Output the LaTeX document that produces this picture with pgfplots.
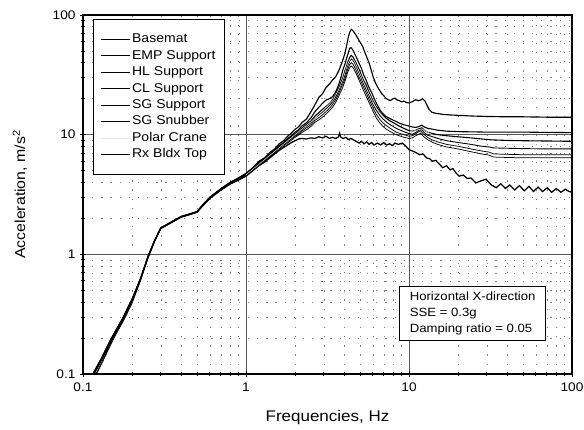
\documentclass[border=0pt]{standalone}
\usepackage{fontspec}
\setmainfont{Liberation Sans}[FakeStretch=1.1]
\usepackage{pgfplots}
\pgfplotsset{compat=1.18}
\begin{document}
\begin{tikzpicture}
\begin{axis}[
  at={(0,0)}, anchor=south west,
  width=489bp, height=359bp, scale only axis,
  xmode=log, ymode=log,
  xmin=0.1, xmax=100, ymin=0.1, ymax=100,
  xtick={0.1,1,10,100}, xticklabels={0.1,1,10,100},
  ytick={0.1,1,10,100}, yticklabels={0.1,1,10,100},
  /pgf/number format/assume math mode=true,
  tick label style={font=\fontsize{12.5}{14}\selectfont},
  xticklabel style={yshift=-2bp},
  yticklabel style={xshift=-1bp},
  tick pos=left, tick align=center,
  major tick length=6bp, minor tick length=4bp,
  tick style={black, line width=0.8pt},
  axis line style={line width=1.3pt},
  grid=both,
  major grid style={black!65, line width=0.6pt},
  minor grid style={black!50, line width=0.4pt, dash pattern=on 1.2pt off 8pt},
  xlabel={Frequencies, Hz},
  ylabel={Acceleration, m/s\textsuperscript{2}},
  xlabel style={at={(axis description cs:0.5,-0.1198)}, anchor=center, font=\fontsize{15.5}{18}\selectfont},
  ylabel style={at={(axis description cs:-0.129,0.5)}, anchor=center, font=\fontsize{14.5}{17}\selectfont},
  legend cell align=left,
  legend style={at={(axis description cs:0.0204,0.9889)}, anchor=north west,
    draw=black, line width=0.8pt, fill=white,
    font=\fontsize{12.8}{14}\selectfont,
    inner xsep=7bp, inner ysep=12.5bp, row sep=1.3bp,
    nodes={inner sep=1.5bp, text height=9.5bp, text depth=2.6bp}},
  legend image code/.code={\draw[#1] (0bp,0bp) -- (29bp,0bp);},
]
% Basemat
\addplot[black, line width=1.25pt] coordinates {
(0.112,0.093) (0.13,0.135) (0.15,0.2) (0.175,0.29) (0.2,0.42) (0.225,0.62) (0.25,0.95) (0.275,1.3) (0.3,1.65) (0.35,1.85) (0.4,2.05) (0.45,2.15) (0.5,2.25) (0.55,2.6) (0.6,2.95) (0.7,3.45) (0.8,3.9) (0.9,4.2)
(1.0,4.5) (1.1,5.0) (1.2,5.5) (1.3,5.9) (1.4,6.4) (1.5,6.9) (1.6,7.4) (1.7,7.8) (1.8,8.2) (1.9,8.6) (2.0,8.9) (2.1,9.2) (2.2,9.3) (2.35,9.2) (2.5,9.4) (2.65,9.3) (2.8,9.6) (2.95,9.4) (3.1,9.7) (3.25,9.3) (3.4,9.5) (3.55,9.3) (3.7,9.6) (3.75,10.3) (3.82,9.5) (3.95,9.3) (4.1,9.5) (4.25,9.1) (4.4,9.3) (4.6,9.0) (4.8,8.7) (4.95,8.5) (5.1,8.8) (5.3,8.4) (5.5,8.7) (5.7,8.3) (5.9,8.6) (6.1,8.2) (6.4,8.5) (6.7,8.2) (7.0,8.6) (7.3,8.2) (7.6,8.4) (7.9,8.1) (8.2,8.5) (8.6,8.3) (9.1,8.5) (9.5,8.1) (10,7.5) (10.5,7.3) (11,7.1) (11.6,6.8) (12.2,6.9) (12.8,6.4) (13.4,6.3) (13.9,6.0) (14.6,6.1) (15.3,5.7) (16.1,5.3) (17,5.5) (17.8,5.1) (18.6,5.2) (19.4,4.8) (20.3,4.5) (21.5,4.6) (22.8,4.3) (24,4.35) (25.7,3.95) (27.5,4.1) (29.7,4.25) (32,3.8) (34.3,3.6) (36.5,3.9) (39,3.55) (41.5,3.8) (44.5,3.45) (47.5,3.75) (51,3.4) (54.5,3.7) (58,3.35) (62,3.65) (66,3.35) (70.5,3.6) (75,3.3) (80,3.55) (85.5,3.3) (91,3.5) (96,3.35) (100,3.3)
};
\addlegendentry{Basemat}
% EMP Support
\addplot[black, line width=0.9pt] coordinates {
(0.114,0.093) (0.13,0.13) (0.15,0.19) (0.175,0.28) (0.2,0.41) (0.225,0.61) (0.25,0.94) (0.275,1.3) (0.3,1.65) (0.35,1.86) (0.4,2.06) (0.45,2.16) (0.5,2.26) (0.55,2.62) (0.6,2.97) (0.7,3.5) (0.8,3.95) (0.9,4.25)
(1.0,4.6) (1.1,5.15) (1.2,5.75) (1.3,6.2) (1.4,6.7) (1.5,7.2) (1.6,7.8) (1.7,8.3) (1.8,8.9) (1.9,9.4) (2.0,9.9) (2.1,10.4) (2.2,11.0) (2.35,11.8) (2.5,12.6) (2.65,13.8) (2.83,14.8) (3.0,15.8) (3.15,16.8) (3.3,17.9) (3.4,18.8) (3.55,20.6) (3.7,23.2) (3.82,25.8) (3.93,28) (4.05,31.5) (4.2,37.5) (4.32,41) (4.42,43) (4.52,42) (4.62,40) (4.75,37) (4.9,33.5) (5.05,30.5) (5.2,27.5) (5.45,24) (5.7,21) (6.0,18.0) (6.3,16.0) (6.6,14.6) (6.9,13.6) (7.2,12.9) (7.6,12.2) (8.0,11.7) (8.35,11.3) (8.7,11.0) (9.3,10.6) (10,10.2) (10.5,10.1) (11,10.4) (11.5,10.9) (12,11.0) (12.4,10.4) (13,9.9) (14,9.6) (15,9.3) (17,8.9) (20,8.6) (24,8.3) (28,8.0) (31,7.9) (33,7.75) (40,7.7) (50,7.65) (70,7.6) (100,7.6)
};
\addlegendentry{EMP Support}
% HL Support
\addplot[black, line width=0.75pt] coordinates {
(0.118,0.093) (0.135,0.135) (0.155,0.2) (0.18,0.29) (0.2,0.39) (0.225,0.6) (0.25,0.92) (0.275,1.28) (0.3,1.64) (0.35,1.84) (0.4,2.04) (0.45,2.14) (0.5,2.24) (0.55,2.58) (0.6,2.92) (0.7,3.42) (0.8,3.85) (0.9,4.15)
(1.0,4.5) (1.1,5.0) (1.2,5.6) (1.3,6.0) (1.4,6.5) (1.5,7.0) (1.6,7.5) (1.7,8.0) (1.8,8.5) (1.9,9.0) (2.0,9.5) (2.1,9.9) (2.2,10.4) (2.35,11.0) (2.5,11.7) (2.65,12.7) (2.83,13.4) (3.0,14.3) (3.15,15.2) (3.3,16.2) (3.4,17.0) (3.55,18.6) (3.7,20.8) (3.82,23) (3.93,25) (4.05,28) (4.2,33) (4.32,36.2) (4.42,37.5) (4.52,36.5) (4.62,34.8) (4.75,32.2) (4.9,29.3) (5.05,26.6) (5.2,24.2) (5.45,21) (5.7,18.4) (6.0,15.8) (6.3,13.8) (6.6,12.6) (6.9,11.8) (7.2,11.2) (7.6,10.7) (8.0,10.3) (8.35,10.0) (8.7,9.8) (9.3,9.5) (10,9.3) (10.5,9.4) (11,9.8) (11.5,10.1) (11.8,10.3) (12.2,9.7) (13,9.1) (14,8.6) (15,8.3) (17,7.9) (20,7.6) (24,7.2) (28,6.9) (31,6.75) (33,6.5) (40,6.45) (50,6.4) (70,6.4) (100,6.4)
};
\addlegendentry{HL Support}
% CL Support
\addplot[black, line width=1.1pt] coordinates {
(0.112,0.093) (0.13,0.135) (0.15,0.2) (0.175,0.29) (0.2,0.42) (0.225,0.62) (0.25,0.95) (0.275,1.3) (0.3,1.66) (0.35,1.87) (0.4,2.07) (0.45,2.17) (0.5,2.27) (0.55,2.63) (0.6,2.98) (0.7,3.5) (0.8,3.95) (0.9,4.3)
(1.0,4.65) (1.1,5.2) (1.2,5.8) (1.3,6.3) (1.4,6.8) (1.5,7.3) (1.6,7.9) (1.7,8.5) (1.8,9.1) (1.9,9.6) (2.0,10.2) (2.1,10.7) (2.2,11.3) (2.35,12.2) (2.5,13.0) (2.65,14.3) (2.83,15.5) (3.0,16.6) (3.15,17.5) (3.3,18.6) (3.4,19.6) (3.55,21.8) (3.7,24.5) (3.82,27.2) (3.93,30) (4.05,34) (4.2,40) (4.32,44) (4.42,46) (4.52,44.8) (4.62,42.5) (4.75,39.5) (4.9,36) (5.05,32.5) (5.2,29.5) (5.45,26) (5.7,22.5) (6.0,19.3) (6.3,17.2) (6.6,15.6) (6.9,14.6) (7.2,13.8) (7.6,13.1) (8.0,12.6) (8.35,12.2) (8.7,11.8) (9.3,11.3) (10,10.8) (10.5,10.7) (11,10.9) (11.5,11.2) (12,11.4) (12.4,10.9) (13,10.5) (14,10.2) (15,10.0) (17,9.8) (20,9.6) (24,9.4) (28,9.2) (32,9.05) (40,8.95) (50,8.9) (70,8.85) (100,8.8)
};
\addlegendentry{CL Support}
% SG Support
\addplot[black, line width=0.75pt] coordinates {
(0.117,0.093) (0.134,0.135) (0.153,0.2) (0.178,0.29) (0.2,0.4) (0.225,0.61) (0.25,0.93) (0.275,1.29) (0.3,1.64) (0.35,1.85) (0.4,2.05) (0.45,2.15) (0.5,2.25) (0.55,2.59) (0.6,2.93) (0.7,3.44) (0.8,3.88) (0.9,4.2)
(1.0,4.55) (1.1,5.1) (1.2,5.7) (1.3,6.1) (1.4,6.6) (1.5,7.1) (1.6,7.7) (1.7,8.2) (1.8,8.7) (1.9,9.2) (2.0,9.7) (2.1,10.1) (2.2,10.7) (2.35,11.4) (2.5,12.1) (2.65,13.2) (2.83,14.0) (3.0,15.0) (3.15,15.9) (3.3,17.0) (3.4,17.9) (3.55,19.6) (3.7,22.0) (3.82,24.5) (3.93,26.5) (4.05,29.5) (4.2,35) (4.32,38.5) (4.42,40) (4.52,39) (4.62,37) (4.75,34.2) (4.9,31) (5.05,28.3) (5.2,25.8) (5.45,22.5) (5.7,19.6) (6.0,16.9) (6.3,14.8) (6.6,13.5) (6.9,12.6) (7.2,12.0) (7.6,11.4) (8.0,10.9) (8.35,10.5) (8.7,10.3) (9.3,10.0) (10,9.7) (10.5,9.8) (11,10.2) (11.5,10.6) (11.8,10.8) (12.2,10.2) (13,9.5) (14,9.0) (15,8.7) (17,8.3) (20,8.0) (24,7.6) (28,7.3) (31,7.15) (33,6.9) (40,6.85) (50,6.8) (70,6.8) (100,6.8)
};
\addlegendentry{SG Support}
% SG Snubber
\addplot[black, line width=1.1pt] coordinates {
(0.112,0.093) (0.13,0.135) (0.15,0.2) (0.175,0.29) (0.2,0.42) (0.225,0.62) (0.25,0.95) (0.275,1.3) (0.3,1.66) (0.35,1.87) (0.4,2.07) (0.45,2.17) (0.5,2.27) (0.55,2.64) (0.6,3.0) (0.7,3.52) (0.8,3.98) (0.9,4.33)
(1.0,4.7) (1.1,5.25) (1.2,5.9) (1.3,6.3) (1.4,6.9) (1.5,7.4) (1.6,8.1) (1.7,8.6) (1.8,9.3) (1.9,9.8) (2.0,10.5) (2.1,11.0) (2.2,11.8) (2.35,12.6) (2.5,13.8) (2.65,15.6) (2.83,17.2) (2.95,18.3) (3.1,19.5) (3.25,20.0) (3.4,20.8) (3.55,22.8) (3.7,26) (3.82,30) (3.93,34.8) (4.05,39) (4.15,44) (4.25,48.5) (4.32,52.7) (4.42,53.3) (4.52,51) (4.62,48) (4.73,45) (4.9,40.5) (5.1,36) (5.25,32) (5.45,28.7) (5.65,25.2) (5.9,22.5) (6.1,20.2) (6.3,18.4) (6.5,17.0) (6.7,15.8) (6.95,14.9) (7.2,14.2) (7.6,13.7) (8.0,13.2) (8.35,12.9) (8.7,12.5) (9.3,12.1) (10,11.8) (10.5,11.6) (11,11.5) (11.5,11.7) (12,12.0) (12.4,11.6) (13,11.3) (14,11.1) (15,10.9) (17,10.7) (20,10.6) (25,10.55) (30,10.5) (50,10.5) (70,10.45) (100,10.4)
};
\addlegendentry{SG Snubber}
% Polar Crane (very light in the reference)
\addplot[black!10, line width=0.5pt] coordinates {
(1.0,4.62) (1.5,7.25) (2.0,10.0) (2.5,12.8) (3.0,16.2) (3.4,19.2) (3.7,23.8) (3.93,29) (4.2,38.7) (4.42,44.5) (4.62,41.2) (4.9,34.7) (5.2,28.5) (5.7,21.7) (6.3,16.6) (7.2,13.3) (8.7,11.4) (10,10.5) (12,11.2) (14,9.9) (20,9.1) (30,8.4) (50,8.25) (100,8.2)
};
\addlegendentry{Polar Crane}
% Rx Bldx Top
\addplot[black, line width=1.15pt] coordinates {
(0.112,0.093) (0.13,0.135) (0.15,0.2) (0.175,0.29) (0.2,0.42) (0.225,0.62) (0.25,0.95) (0.275,1.3) (0.3,1.66) (0.35,1.87) (0.4,2.07) (0.45,2.17) (0.5,2.27) (0.55,2.64) (0.6,3.0) (0.7,3.53) (0.8,4.0) (0.9,4.36)
(1.0,4.75) (1.1,5.3) (1.2,6.0) (1.3,6.4) (1.4,7.1) (1.5,7.6) (1.6,8.4) (1.7,8.9) (1.8,9.7) (1.9,10.3) (2.0,11.1) (2.1,11.6) (2.2,12.6) (2.35,13.5) (2.5,15.5) (2.65,17.8) (2.8,20.5) (2.95,22.0) (3.1,24.8) (3.25,26.5) (3.4,28.7) (3.55,30.5) (3.7,34) (3.85,39) (3.95,43) (4.05,48) (4.15,56) (4.25,66) (4.35,73) (4.42,76) (4.5,74.5) (4.6,72) (4.73,68) (4.85,64) (4.95,61) (5.08,57.5) (5.2,54.5) (5.32,50) (5.45,46) (5.58,42.5) (5.7,39.5) (5.85,35) (6.0,31) (6.2,27.5) (6.4,25.2) (6.6,23.5) (6.8,22.0) (7.0,21.2) (7.2,20.2) (7.45,19.6) (7.7,19.3) (7.95,19.9) (8.2,20.2) (8.45,19.5) (8.7,19.3) (9.0,18.8) (9.3,19.1) (9.6,18.6) (10,18.4) (10.5,18.9) (11,19.6) (11.4,19.2) (11.8,19.5) (12.1,20.0) (12.5,19.2) (12.9,17.6) (13.3,16.2) (13.8,15.4) (14.5,15.1) (16,14.8) (18,14.6) (20,14.5) (25,14.3) (30,14.2) (40,14.1) (50,14.1) (70,14.0) (100,14.0)
};
\addlegendentry{Rx Bldx Top}
\node[draw=black, line width=0.8pt, fill=white, anchor=north west, align=left,
  inner xsep=10bp, inner ysep=5bp, font=\fontsize{12}{16.3}\selectfont]
  at (rel axis cs:0.647,0.2451) {Horizontal X-direction\\SSE = 0.3g\\Damping ratio = 0.05};
\end{axis}
\pgfresetboundingbox
\path[use as bounding box] (-83bp,-56bp) rectangle (501bp,374bp);
\end{tikzpicture}
\end{document}
